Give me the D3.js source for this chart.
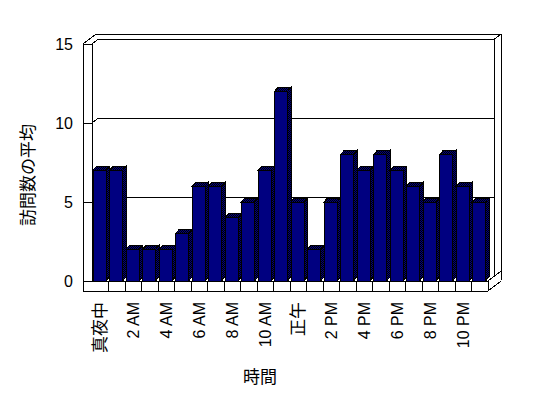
<!DOCTYPE html>
<html>
<head>
<meta charset="utf-8">
<script src="https://cdn.jsdelivr.net/npm/d3@7"></script>
<style>
  body { margin: 0; background: #fff; }
  svg text { font-family: "Liberation Sans", Arial, sans-serif; font-size: 16px; fill: #000; }
  svg text.jp { font-family: "Noto Sans CJK JP", sans-serif; font-size: 17px; fill: #000; }
</style>
</head>
<body>
<div id="chart"></div>
<script>
// Data: average visits per hour of the day
var hours = d3.range(24);
var hourLabels = ["真夜中", "", "2 AM", "", "4 AM", "", "6 AM", "", "8 AM", "", "10 AM", "",
                  "正午", "", "2 PM", "", "4 PM", "", "6 PM", "", "8 PM", "", "10 PM", ""];
var visits = [7, 7, 2, 2, 2, 3, 6, 6, 4, 5, 7, 12, 5, 2, 5, 8, 7, 8, 7, 6, 5, 8, 6, 5];
var yTicks = [0, 5, 10, 15];
var yTitle = "訪問数の平均";
var xTitle = "時間";

var W = 548, H = 398;
var svg = d3.select("#chart").append("svg")
    .attr("width", W).attr("height", H)
    .style("display", "block");

// dithered fill for the shaded bar faces
var pat = svg.append("defs").append("pattern")
    .attr("id", "dither")
    .attr("patternUnits", "userSpaceOnUse")
    .attr("width", 2).attr("height", 2);
pat.append("rect").attr("width", 2).attr("height", 2).attr("fill", "#000080");
pat.append("rect").attr("width", 1).attr("height", 1).attr("fill", "#000");
pat.append("rect").attr("x", 1).attr("y", 1).attr("width", 1).attr("height", 1).attr("fill", "#000");

// front plane scales
var x = d3.scaleBand().domain(hours).range([92, 488]).padding(0);
var y = d3.scaleLinear().domain([0, 15]).range([281, 44]);

var wallLeft = 83, floorBottom = 291;
var d1 = {x: 6.5, y: -5};   // inner wall depth
var d2 = {x: 13, y: -10};   // outer wall depth
var bd = {x: 3.5, y: -4};   // bar depth

var frame = svg.append("g")
    .attr("fill", "none")
    .attr("stroke", "#000")
    .attr("stroke-width", 1)
    .attr("shape-rendering", "crispEdges");

function seg(x1, y1, x2, y2) {
  frame.append("line").attr("x1", x1).attr("y1", y1).attr("x2", x2).attr("y2", y2);
}

var x0 = x.range()[0], x1 = x.range()[1];
var yTop = y(15), yZero = y(0);

// left wall front face
seg(wallLeft, yTop, wallLeft, floorBottom);
seg(x0, yTop, x0, yZero);
// top edges of the walls
seg(wallLeft, yTop, x0, yTop);
seg(wallLeft, yTop, wallLeft + d2.x, yTop + d2.y);
seg(wallLeft + d2.x, yTop + d2.y, x1 + d2.x, yTop + d2.y);
// right edges
seg(x1 + d1.x, yTop + d1.y, x1 + d2.x, yTop + d2.y);
seg(x1 + d2.x, yTop + d2.y, x1 + d2.x, yZero + d2.y + 9);
seg(x1 + d1.x, yTop + d1.y, x1 + d1.x, yZero + d1.y);

// gridlines on left wall and back wall
yTicks.filter(function(v) { return v > 0; }).forEach(function(v) {
  var yy = y(v);
  seg(wallLeft, yy, x0, yy);
  seg(x0, yy, x0 + d1.x, yy + d1.y);
  seg(x0 + d1.x, yy + d1.y, x1 + d1.x, yy + d1.y);
});

// floor slab
seg(wallLeft, yZero, x1, yZero);
seg(wallLeft, floorBottom, x1, floorBottom);
seg(x1, yZero, x1, floorBottom);
seg(x1, yZero, x1 + d2.x, yZero + d2.y);
seg(x1, floorBottom, x1 + d2.x, floorBottom + d2.y);
hours.slice(1).forEach(function(h) {
  seg(x(h), yZero, x(h), floorBottom);
});

// bars
var bw = 13;
var bars = svg.append("g")
    .attr("stroke", "#000")
    .attr("stroke-width", 1)
    .attr("shape-rendering", "crispEdges");

hours.forEach(function(h, i) {
  var bx = x(h) + 1, bx2 = bx + bw, top = y(visits[i]);
  var g = bars.append("g");
  g.append("polygon")
    .attr("fill", "url(#dither)")
    .attr("points", [[bx, top], [bx + bd.x, top + bd.y], [bx2 + bd.x, top + bd.y], [bx2, top]].join(" "));
  g.append("polygon")
    .attr("fill", "url(#dither)")
    .attr("points", [[bx2, top], [bx2 + bd.x, top + bd.y], [bx2 + bd.x, yZero + bd.y], [bx2, yZero]].join(" "));
  g.append("rect")
    .attr("x", bx).attr("y", top)
    .attr("width", bw).attr("height", yZero - top)
    .attr("fill", "#000080");
});

// y axis labels
var yAxis = svg.append("g")
    .attr("transform", "translate(" + wallLeft + ",0)")
    .call(d3.axisLeft(y).tickValues(yTicks).tickSize(0).tickPadding(10).tickFormat(d3.format("d")));
yAxis.select(".domain").remove();
yAxis.selectAll("text").style("fill", "#000").style("font-size", "16px");

// x axis labels
var isJp = function(h) { return /[^\x00-\x7f]/.test(hourLabels[h]); };
var xAxis = svg.append("g")
    .attr("transform", "translate(0," + floorBottom + ")")
    .call(d3.axisBottom(x)
      .tickValues(hours.filter(function(h) { return hourLabels[h] !== ""; }))
      .tickSize(0)
      .tickFormat(function(h) { return hourLabels[h]; }));
xAxis.select(".domain").remove();
xAxis.selectAll("text")
    .attr("transform", "rotate(-90)")
    .attr("x", -11)
    .attr("y", 0)
    .attr("dy", "0.35em")
    .attr("class", function(h) { return isJp(h) ? "jp" : null; })
    .style("text-anchor", "end")
    .style("fill", "#000")
    .style("font-family", function(h) { return isJp(h) ? "'Noto Sans CJK JP', sans-serif" : "'Liberation Sans', Arial, sans-serif"; })
    .style("font-size", function(h) { return isJp(h) ? "17px" : "16px"; });

// axis titles
svg.append("text")
    .attr("class", "jp")
    .attr("transform", "translate(34,175) rotate(-90)")
    .style("text-anchor", "middle")
    .text(yTitle);

svg.append("text")
    .attr("class", "jp")
    .attr("x", 260)
    .attr("y", 383)
    .style("text-anchor", "middle")
    .text(xTitle);
</script>
</body>
</html>
